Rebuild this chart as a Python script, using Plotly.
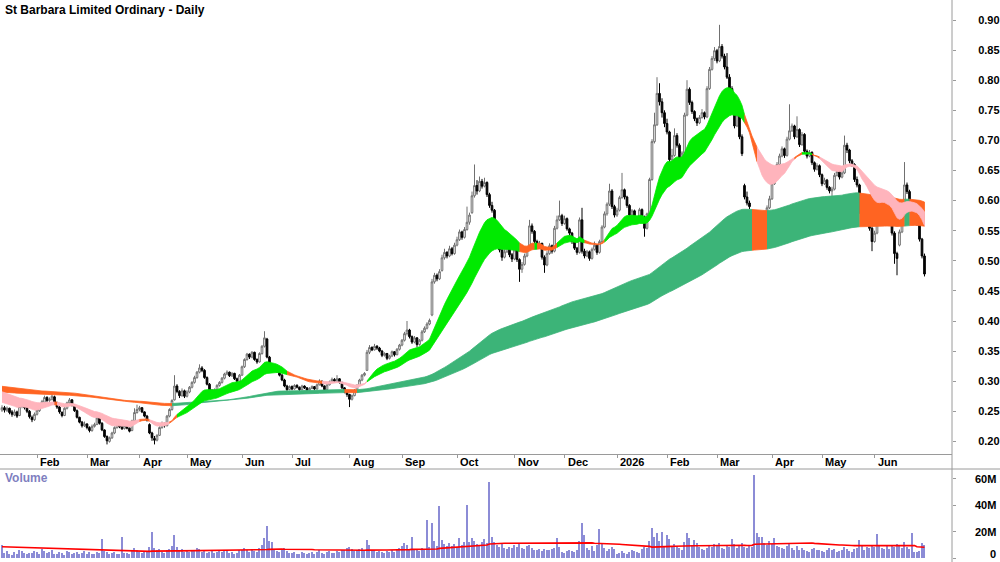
import numpy as np
import pandas as pd
import plotly.graph_objects as go

TITLE = "St Barbara Limited Ordinary - Daily"
START, END = "2025-01-13", "2026-06-30"
HOLIDAYS = ["2025-01-27", "2025-04-18", "2025-04-21", "2025-04-25", "2025-06-09",
            "2025-12-25", "2025-12-26", "2026-01-01", "2026-01-26", "2026-04-03",
            "2026-04-06", "2026-06-08"]

# prices in cents, one line per month
OPEN = [
 25.2, 25.6, 25.1, 25.5, 24.9, 24.4, 24.9, 24.3, 25.8, 26.3, 25.6, 25.0, 24.0, 23.6,
 24.5, 25.1, 25.9, 26.5, 27.3, 26.8, 27.0, 27.4, 26.4, 25.7, 24.8, 24.3, 25.5, 26.4, 26.9, 26.0, 25.1, 24.0, 23.2, 22.6,
 22.9, 22.3, 21.8, 22.5, 22.8, 23.9, 23.0, 21.9, 20.8, 20.0, 20.6, 21.4, 22.3, 22.9, 22.4, 22.1, 22.6, 22.2, 21.8, 23.4, 24.8,
 25.3, 25.6, 24.9, 24.2, 22.8, 21.4, 20.5, 20.2, 21.0, 22.3, 23.0, 22.6, 24.2, 25.3, 26.9, 29.2, 28.3, 27.6, 28.4,
 27.5, 28.2, 29.0, 29.8, 30.6, 31.5, 32.2, 31.8, 30.6, 29.5, 28.4, 27.9, 28.6, 29.3, 29.8, 30.5, 31.2, 31.5, 30.9, 31.3, 30.4, 30.0,
 31.0, 32.4, 33.6, 34.5, 34.0, 34.8, 33.6, 33.2, 34.6, 35.8, 37.0, 34.0, 32.6, 31.8, 32.4, 31.6, 31.0, 30.2, 29.2, 28.6,
 29.1, 28.7, 29.3, 29.0, 28.6, 29.2, 28.9, 28.5, 28.8, 29.1, 28.7, 29.4, 30.0, 29.2, 28.6, 29.4, 29.9, 30.3, 30.0, 30.4, 29.8, 28.9, 28.2,
 27.8, 27.0, 27.6, 28.5, 29.3, 30.2, 31.0, 31.8, 34.8, 35.6, 35.2, 35.8, 35.5, 35.0, 34.3, 34.6, 33.8, 34.2, 34.9, 34.4, 35.3,
 36.0, 36.8, 37.9, 38.5, 37.4, 36.5, 37.2, 36.1, 36.8, 38.2, 38.8, 39.5, 41.0, 46.5, 47.6, 47.0, 48.4, 50.5, 51.4, 50.8, 52.0, 51.2,
 52.6, 53.5, 54.8, 53.9, 55.2, 56.4, 58.0, 60.8, 62.5, 61.6, 63.2, 62.4, 63.0, 61.0, 59.2, 58.4, 55.6, 54.2, 51.8, 50.6, 51.5, 52.4, 51.0,
 50.3, 51.8, 50.2, 48.6, 49.4, 50.8, 52.0, 55.8, 54.9, 53.2, 52.4, 52.9, 50.6, 49.3, 51.2, 52.5, 51.6, 55.4, 56.8, 57.5,
 56.2, 57.0, 55.3, 54.6, 53.2, 52.1, 51.4, 56.8, 51.6, 50.8, 51.5, 50.4, 51.9, 52.6, 51.4, 53.2, 55.6, 57.8, 59.4, 61.6, 59.0,
 57.6, 58.4, 60.5, 61.8, 60.6, 59.2, 57.6, 58.3, 57.1, 56.6, 58.5, 57.2, 55.4, 57.8, 63.5, 69.8, 72.6, 77.8, 76.4, 74.6,
 72.8, 71.4, 66.8, 67.5, 70.8, 69.2, 66.4, 67.9, 74.2, 78.5, 76.3, 74.8, 73.6, 72.9, 73.8, 74.6, 73.9, 78.6, 81.8, 83.6,
 84.9, 83.2, 85.6, 84.0, 82.2, 80.5, 78.6, 76.8, 72.4, 74.2, 70.6, 62.5, 60.6, 59.6, 57.5, 54.2, 55.8, 53.4, 55.9, 54.6, 57.2, 58.8,
 60.3, 62.8, 64.2, 66.0, 67.4, 68.6, 67.5, 70.2, 71.6, 72.4, 70.6, 71.8, 69.3, 71.0, 68.2, 67.4, 68.0, 66.3, 65.2, 65.8,
 64.3, 62.8, 63.4, 62.2, 61.6, 61.9, 64.2, 64.8, 63.9, 64.6, 69.2, 68.4, 66.6, 66.0, 63.5, 62.6, 58.2, 56.4, 57.8, 56.5, 55.4,
 53.2, 54.6, 56.8, 59.2, 60.4, 59.1, 58.0, 56.8, 54.6, 51.2, 52.6, 54.8, 58.4, 62.6, 61.5, 59.6, 58.8, 57.4, 56.2, 53.6, 50.8,
]
HIGH = [
 26.0, 25.9, 25.8, 25.6, 25.2, 25.3, 25.1, 26.0, 26.9, 26.5, 25.9, 25.2, 24.3, 24.8,
 25.4, 26.1, 26.9, 27.6, 27.5, 27.3, 28.0, 27.6, 26.6, 25.9, 25.0, 25.7, 26.6, 27.2, 27.0, 26.2, 25.3, 24.1, 23.4, 23.3,
 23.0, 22.5, 22.8, 23.1, 24.2, 24.0, 23.2, 22.0, 21.0, 20.8, 21.6, 22.5, 23.2, 23.0, 22.6, 22.8, 22.7, 22.3, 23.6, 25.5, 26.1,
 25.9, 25.7, 25.0, 24.4, 23.0, 21.6, 20.9, 21.2, 22.5, 23.3, 23.1, 24.4, 25.5, 27.0, 31.0, 29.5, 28.5, 28.8, 28.6,
 28.5, 29.2, 30.0, 30.9, 31.7, 32.8, 32.5, 32.0, 30.8, 29.7, 28.7, 28.8, 29.5, 30.0, 30.7, 31.4, 31.8, 31.6, 31.5, 31.4, 30.6, 31.2,
 32.6, 33.8, 34.7, 34.6, 35.0, 34.9, 33.8, 34.8, 36.0, 38.3, 37.2, 34.2, 32.8, 32.6, 32.5, 31.8, 31.2, 30.4, 29.4, 29.3,
 29.3, 29.5, 29.5, 29.1, 29.4, 29.3, 29.0, 29.0, 29.3, 29.2, 29.6, 30.3, 30.1, 29.3, 29.6, 30.1, 30.6, 30.5, 31.0, 30.5, 29.9, 29.0, 28.3,
 27.9, 27.8, 28.7, 29.5, 30.4, 31.2, 31.5, 35.2, 36.0, 35.8, 36.2, 36.0, 35.7, 35.2, 34.8, 34.7, 34.4, 35.1, 35.0, 35.5, 36.2,
 37.0, 38.2, 40.0, 38.7, 37.6, 37.5, 37.3, 37.0, 38.5, 39.1, 39.8, 40.4, 47.0, 48.0, 47.9, 48.6, 51.0, 52.0, 51.6, 52.5, 52.3, 53.0,
 54.0, 55.2, 55.0, 55.6, 59.0, 58.0, 61.5, 66.0, 63.4, 64.0, 63.6, 63.8, 63.2, 61.3, 59.8, 58.6, 56.0, 54.4, 52.2, 51.9, 53.0, 52.6, 51.3,
 52.2, 52.0, 50.4, 49.8, 51.2, 52.4, 56.8, 56.2, 55.1, 53.5, 53.3, 53.0, 50.9, 51.6, 52.9, 52.7, 55.8, 57.5, 60.0, 57.8,
 57.5, 57.2, 55.5, 54.8, 53.4, 52.3, 57.2, 58.8, 52.0, 51.8, 51.7, 52.2, 53.2, 52.8, 53.5, 55.9, 58.2, 59.7, 62.8, 61.9, 59.3,
 58.8, 60.8, 64.6, 62.0, 60.8, 59.4, 58.6, 58.5, 57.4, 58.8, 58.7, 57.5, 58.0, 63.8, 70.2, 74.6, 80.5, 79.5, 77.0, 75.0,
 73.6, 71.6, 68.6, 72.0, 71.2, 69.5, 68.2, 74.6, 80.0, 78.8, 76.6, 75.0, 73.8, 74.2, 75.2, 74.8, 79.0, 82.2, 84.0, 85.5,
 85.2, 89.2, 86.0, 84.4, 84.5, 81.0, 79.0, 77.2, 75.0, 74.4, 71.0, 62.8, 61.5, 60.0, 57.8, 56.2, 56.0, 56.4, 56.2, 57.6, 59.2, 60.8,
 63.2, 64.6, 66.4, 67.8, 69.0, 68.8, 70.6, 76.0, 72.8, 72.6, 74.0, 72.0, 71.4, 71.2, 68.5, 68.4, 68.2, 66.5, 66.2, 66.0,
 64.5, 63.8, 63.6, 62.4, 62.3, 64.6, 65.2, 65.0, 65.0, 70.8, 69.6, 68.6, 66.9, 66.2, 64.0, 62.8, 58.6, 58.2, 58.0, 56.8, 55.7,
 55.0, 57.2, 59.6, 61.2, 60.6, 59.3, 58.2, 57.0, 54.9, 51.5, 55.2, 58.8, 66.4, 63.0, 61.8, 60.0, 59.2, 57.6, 56.4, 53.8, 51.2,
]
LOW = [
 24.9, 24.8, 24.9, 24.5, 24.1, 24.2, 23.9, 24.2, 25.5, 25.3, 24.7, 23.8, 23.2, 23.4,
 24.3, 24.9, 25.6, 26.3, 26.5, 26.4, 26.8, 26.1, 25.4, 24.6, 24.0, 24.2, 25.3, 26.2, 25.8, 24.9, 23.8, 23.0, 22.3, 22.4,
 22.0, 21.5, 21.6, 22.3, 22.7, 22.8, 21.7, 20.6, 19.5, 19.8, 20.4, 21.2, 22.1, 22.2, 21.9, 22.0, 22.0, 21.5, 21.7, 23.3, 24.6,
 25.0, 24.7, 24.0, 23.3, 21.2, 20.1, 19.5, 20.0, 20.9, 22.1, 22.3, 22.5, 24.0, 25.1, 26.8, 28.0, 27.2, 27.4, 27.2,
 27.3, 28.0, 28.8, 29.6, 30.4, 31.3, 31.5, 30.4, 29.3, 28.2, 27.5, 27.7, 28.4, 29.1, 29.6, 30.3, 31.0, 30.7, 30.7, 30.2, 29.7, 29.9,
 30.9, 32.2, 33.4, 33.7, 33.8, 33.4, 32.9, 33.1, 34.4, 35.6, 33.8, 32.4, 31.5, 31.6, 31.4, 30.8, 30.0, 29.0, 28.4, 28.5,
 28.5, 28.6, 28.8, 28.4, 28.5, 28.7, 28.3, 28.4, 28.7, 28.5, 28.6, 29.3, 29.0, 28.4, 28.5, 29.3, 29.8, 29.8, 29.9, 29.6, 28.7, 28.0, 27.4,
 25.7, 26.8, 27.5, 28.4, 29.2, 30.0, 30.8, 31.7, 34.5, 35.0, 35.1, 35.2, 34.8, 34.0, 34.1, 33.5, 33.6, 34.0, 34.1, 34.3, 35.1,
 35.8, 36.6, 37.6, 37.1, 36.2, 36.3, 35.7, 35.9, 36.6, 38.0, 38.6, 39.3, 40.8, 46.2, 46.6, 46.8, 48.2, 50.2, 50.4, 50.6, 50.9, 51.0,
 52.4, 53.3, 53.5, 53.7, 55.0, 56.0, 57.8, 60.5, 61.0, 61.4, 62.0, 62.2, 60.6, 58.8, 58.0, 55.2, 53.8, 51.4, 50.0, 50.4, 51.3, 50.6, 49.8,
 50.1, 49.8, 46.5, 48.0, 49.2, 50.6, 51.8, 54.5, 52.9, 52.0, 52.2, 50.2, 48.0, 49.1, 51.0, 51.2, 51.4, 55.2, 56.6, 55.8,
 56.0, 55.0, 54.2, 52.8, 51.8, 51.0, 51.2, 51.2, 50.4, 50.6, 50.0, 50.2, 51.7, 51.0, 51.2, 53.0, 55.4, 57.5, 59.1, 58.6, 57.2,
 57.3, 58.2, 60.3, 60.2, 58.8, 57.2, 57.4, 56.8, 56.2, 56.4, 56.9, 54.0, 55.2, 57.6, 63.3, 69.5, 72.4, 75.8, 73.8, 72.2,
 71.0, 66.2, 64.8, 67.3, 68.8, 65.8, 65.0, 67.7, 74.0, 75.9, 74.4, 73.2, 72.4, 72.7, 73.6, 73.5, 73.7, 78.4, 81.6, 83.2,
 82.8, 83.0, 83.6, 81.8, 80.2, 78.2, 76.4, 72.0, 72.2, 70.2, 67.4, 60.2, 59.2, 58.6, 53.6, 52.8, 52.6, 53.2, 54.2, 54.4, 57.0, 58.6,
 60.1, 62.6, 64.0, 65.8, 67.2, 67.1, 67.3, 70.0, 71.4, 70.2, 70.4, 68.9, 69.1, 67.8, 67.0, 67.2, 65.9, 64.8, 65.0, 63.9,
 62.4, 62.6, 61.8, 61.2, 59.8, 61.7, 64.0, 63.5, 63.7, 64.4, 67.9, 66.2, 65.6, 63.1, 62.2, 57.8, 56.0, 56.2, 56.1, 55.0, 51.6,
 53.0, 54.4, 56.6, 59.0, 58.7, 57.6, 56.4, 54.2, 49.5, 47.6, 52.4, 54.6, 58.2, 61.1, 59.2, 58.4, 57.0, 55.8, 53.2, 50.4, 47.4,
]
CLOSE = [
 25.6, 25.2, 25.5, 24.8, 24.5, 24.9, 24.2, 25.8, 26.3, 25.6, 25.0, 24.1, 23.6, 24.5,
 25.2, 25.9, 26.6, 27.3, 26.8, 27.0, 27.5, 26.4, 25.7, 24.9, 24.3, 25.5, 26.4, 26.9, 26.0, 25.1, 24.0, 23.2, 22.6, 22.9,
 22.3, 21.8, 22.5, 22.8, 23.9, 23.0, 21.9, 20.8, 20.1, 20.6, 21.4, 22.3, 22.9, 22.4, 22.1, 22.6, 22.2, 21.7, 23.4, 24.8, 25.3,
 25.6, 24.9, 24.2, 23.5, 21.4, 20.6, 20.2, 21.0, 22.3, 23.0, 22.6, 24.2, 25.3, 26.8, 29.2, 28.3, 27.6, 28.4, 27.5,
 28.2, 29.0, 29.8, 30.6, 31.5, 32.2, 31.8, 30.6, 29.5, 28.4, 27.9, 28.6, 29.3, 29.8, 30.5, 31.2, 31.5, 30.9, 31.3, 30.4, 30.0, 31.0,
 32.4, 33.6, 34.5, 34.0, 34.8, 33.6, 33.2, 34.6, 35.8, 37.2, 34.0, 32.6, 31.8, 32.4, 31.6, 31.0, 30.2, 29.2, 28.6, 29.1,
 28.7, 29.3, 29.0, 28.6, 29.2, 28.9, 28.5, 28.8, 29.1, 28.7, 29.4, 30.0, 29.2, 28.6, 29.4, 29.9, 30.3, 30.0, 30.4, 29.8, 28.9, 28.2, 27.8,
 27.0, 27.6, 28.5, 29.3, 30.2, 31.0, 31.3, 34.8, 35.6, 35.2, 35.8, 35.5, 35.0, 34.3, 34.6, 33.8, 34.2, 34.9, 34.4, 35.3, 36.0,
 36.8, 37.9, 38.5, 37.4, 36.5, 37.2, 36.1, 36.8, 38.2, 38.8, 39.5, 40.1, 46.5, 47.6, 47.0, 48.2, 50.5, 51.4, 50.8, 52.0, 51.2, 52.6,
 53.5, 54.8, 53.9, 55.2, 56.4, 57.6, 60.8, 62.5, 61.6, 63.2, 62.4, 63.0, 61.0, 59.2, 58.4, 55.6, 54.2, 51.8, 50.6, 51.5, 52.4, 51.0, 50.3,
 51.8, 50.2, 48.6, 49.4, 50.8, 52.0, 55.8, 54.9, 53.2, 52.4, 52.9, 50.6, 49.3, 51.2, 52.5, 51.6, 55.4, 56.8, 57.5, 56.2,
 57.0, 55.3, 54.6, 53.2, 52.1, 51.4, 56.8, 51.6, 50.8, 51.5, 50.4, 51.9, 52.6, 51.4, 53.2, 55.6, 57.8, 59.4, 61.6, 59.0, 57.6,
 58.4, 60.5, 61.8, 60.6, 59.2, 57.6, 58.3, 57.1, 56.6, 58.5, 57.2, 55.4, 57.8, 63.5, 69.8, 72.6, 77.8, 76.4, 74.6, 72.8,
 71.4, 66.8, 67.5, 70.8, 69.2, 66.4, 67.9, 74.2, 78.5, 76.3, 74.8, 73.6, 72.9, 73.8, 74.6, 73.9, 78.6, 81.8, 83.6, 84.9,
 83.2, 85.6, 84.0, 82.2, 80.5, 78.6, 76.8, 72.4, 74.2, 70.6, 67.8, 60.6, 59.6, 59.0, 54.2, 55.8, 53.4, 55.9, 54.6, 57.2, 58.8, 60.3,
 62.8, 64.2, 66.0, 67.4, 68.6, 67.5, 70.2, 71.6, 72.4, 70.6, 71.8, 69.3, 71.0, 68.2, 67.4, 68.0, 66.3, 65.2, 65.8, 64.3,
 62.8, 63.4, 62.2, 61.6, 61.9, 64.2, 64.8, 63.9, 64.6, 69.2, 68.4, 66.6, 66.0, 63.5, 62.6, 58.2, 56.4, 57.8, 56.5, 55.4, 53.2,
 54.6, 56.8, 59.2, 60.4, 59.1, 58.0, 56.8, 54.6, 51.2, 50.4, 54.8, 58.4, 62.6, 61.5, 59.6, 58.8, 57.4, 56.2, 53.6, 50.8, 47.8,
]
# volume in millions of shares
VOLUME = [
 10.0, 4.0, 5.5, 3.0, 2.5, 4.5, 3.0, 6.0, 5.0, 3.5, 2.8, 4.0, 3.6, 5.2,
 4.8, 3.2, 6.5, 5.4, 3.9, 4.2, 5.8, 3.4, 2.9, 4.4, 3.8, 2.6, 5.1, 4.6, 3.3, 3.9, 4.7, 2.8, 4.1, 5.5,
 3.4, 4.2, 3.1, 2.7, 4.9, 3.6, 14.0, 5.3, 4.4, 3.2, 3.8, 4.6, 3.0, 2.8, 15.6, 4.1, 3.5, 2.9, 5.2, 7.8, 6.1,
 4.6, 3.9, 4.4, 5.6, 8.2, 19.5, 7.4, 5.8, 6.6, 4.9, 3.7, 6.3, 7.1, 9.4, 17.0, 8.6, 5.2, 6.8, 4.5,
 5.4, 4.8, 6.2, 5.7, 7.6, 6.9, 4.3, 5.1, 3.8, 4.6, 5.9, 3.6, 4.2, 5.0, 4.4, 6.1, 5.5, 3.9, 4.7, 3.4, 4.1, 5.8,
 6.4, 7.2, 5.9, 4.6, 6.8, 5.1, 4.4, 7.5, 9.8, 15.0, 24.0, 12.6, 11.8, 6.2, 5.5, 4.8, 6.6, 7.4, 5.2, 4.1,
 3.6, 4.4, 3.1, 2.9, 4.2, 3.5, 2.7, 3.8, 4.5, 3.2, 4.9, 6.1, 3.7, 3.3, 4.6, 5.3, 4.1, 3.6, 5.0, 4.3, 5.8, 6.4, 7.2,
 8.5, 6.5, 5.1, 5.9, 6.8, 7.4, 6.2, 13.8, 9.6, 5.7, 6.3, 4.9, 5.4, 4.6, 3.9, 5.2, 4.4, 5.8, 4.7, 6.5, 7.9,
 8.8, 11.0, 9.5, 6.4, 16.0, 5.8, 6.9, 5.5, 7.6, 6.8, 29.0, 8.4, 26.5, 12.8, 9.2, 39.0, 13.6, 10.2, 8.7, 11.4, 9.1, 10.5,
 8.6, 15.0, 9.8, 12.4, 40.0, 11.8, 15.0, 13.2, 10.6, 9.5, 12.0, 14.0, 11.2, 57.0, 16.0, 12.4, 9.8, 8.6, 10.4, 7.2, 6.8, 8.1, 7.4,
 9.8, 8.4, 10.6, 7.2, 6.5, 8.8, 9.6, 7.8, 6.4, 5.9, 6.6, 5.4, 7.1, 6.3, 5.8, 6.9, 7.5, 15.0, 8.2, 4.6,
 3.8, 5.2, 6.4, 5.6, 4.2, 5.9, 12.5, 26.5, 17.0, 7.8, 6.2, 8.9, 5.1, 9.6, 22.0, 10.4, 7.6, 5.3, 6.9, 8.4, 6.6,
 3.2, 4.1, 5.5, 3.6, 2.9, 4.8, 6.2, 5.4, 4.4, 3.8, 6.8, 8.6, 7.4, 13.0, 23.0, 16.0, 19.0, 12.5, 19.5, 9.4,
 17.0, 14.0, 8.6, 10.8, 9.2, 7.6, 6.4, 12.2, 18.6, 15.4, 9.8, 13.6, 11.0, 8.4, 6.8, 5.9, 7.2, 9.6, 8.1, 10.2,
 8.8, 11.5, 7.4, 6.9, 9.2, 8.4, 14.3, 10.8, 7.9, 9.6, 11.2, 8.5, 7.3, 9.8, 8.6, 63.0, 18.7, 15.6, 15.6, 11.4, 9.6, 12.8,
 10.2, 14.8, 9.4, 8.6, 7.2, 6.5, 8.8, 11.6, 7.9, 6.4, 9.2, 5.8, 7.5, 6.2, 5.4, 4.9, 6.6, 7.3, 5.7, 6.1,
 5.2, 4.6, 6.4, 7.8, 5.9, 6.6, 4.8, 5.3, 6.2, 8.5, 7.1, 5.6, 4.9, 6.8, 7.5, 13.5, 9.6, 6.2, 8.4, 7.7, 9.2,
 8.6, 18.0, 9.4, 7.2, 6.5, 8.8, 7.1, 9.9, 8.2, 10.6, 9.0, 7.4, 11.8, 8.5, 6.9, 18.7, 4.2, 4.8, 5.1, 11.0, 9.5,
]

# multiple moving average ribbons (periods in days, starting values in cents)
SHORT_PERIODS = [18, 21, 24, 27, 31, 36]
SHORT_SEED = [26.6, 26.9, 27.2, 27.6, 27.9, 28.4]
LONG_PERIODS = [150, 165, 180, 200, 220, 240]
LONG_SEED = [29.2, 29.0, 28.8, 28.6, 28.4, 28.2]
VOL_MA_PERIOD = 65
VOL_MA_SEED = 8.5

PRICE_TICKS = [0.20, 0.25, 0.30, 0.35, 0.40, 0.45, 0.50, 0.55, 0.60, 0.65, 0.70, 0.75, 0.80, 0.85, 0.90]
VOL_TICKS = [0, 20, 40, 60]
VOL_TICK_TEXT = ["0", "20M", "40M", "60M"]

GREEN, PINK, ORANGE, DKGREEN = "#00EA00", "#FFB4BC", "#FF6422", "#3CB478"
VOL_COLOR, VOL_MA_COLOR = "#8C8CD6", "#FF0000"
FONT = "Liberation Sans, Arial, sans-serif"
NARROW = "Liberation Sans Narrow, Arial Narrow, Liberation Sans, sans-serif"

# ---------------------------------------------------------------
dates = pd.bdate_range(START, END)
dates = dates[~dates.isin(pd.to_datetime(HOLIDAYS))]
n = len(dates)
for name, arr in (("OPEN", OPEN), ("HIGH", HIGH), ("LOW", LOW), ("CLOSE", CLOSE), ("VOLUME", VOLUME)):
    assert len(arr) == n, f"{name} has {len(arr)} values, expected {n}"
idx = np.arange(n)
o, h, l, c = (np.array(a) / 100 for a in (OPEN, HIGH, LOW, CLOSE))
vol = np.array(VOLUME)


def ema(values, period, seed):
    a = 2.0 / (period + 1)
    out = np.empty(len(values))
    prev = seed
    for k, v in enumerate(values):
        prev = prev + a * (v - prev)
        out[k] = prev
    return out


S = np.vstack([ema(c, p, s / 100) for p, s in zip(SHORT_PERIODS, SHORT_SEED)])
L = np.vstack([ema(c, p, s / 100) for p, s in zip(LONG_PERIODS, LONG_SEED)])
dS = np.diff(S, axis=0)
short_col = np.where(np.all(dS < 0, axis=0), GREEN, np.where(np.all(dS > 0, axis=0), PINK, ORANGE))
prevL = np.concatenate([[LONG_SEED[0] / 100], L[0][:-1]])
long_col = np.where(L[0] < prevL, ORANGE, DKGREEN)


def runs(cols):
    out, start = [], 0
    for i in range(1, len(cols) + 1):
        if i == len(cols) or cols[i] != cols[start]:
            out.append((start, i - 1, cols[start]))
            start = i
    return out


def band(upper, lower, cols):
    tr = []
    for a, b, col in runs(list(cols)):
        e = min(b + 1, n - 1)
        xs = np.concatenate([idx[a:e + 1], idx[a:e + 1][::-1]])
        ys = np.concatenate([upper[a:e + 1], lower[a:e + 1][::-1]])
        tr.append(go.Scatter(x=xs, y=ys, fill="toself", fillcolor=col, mode="lines",
                             line=dict(color=col, width=0.8), hoverinfo="skip",
                             xaxis="x", yaxis="y"))
    return tr


vol_ma = np.array([(vol[max(0, i - VOL_MA_PERIOD + 1):i + 1].sum()
                    + VOL_MA_SEED * max(0, VOL_MA_PERIOD - (i + 1))) / VOL_MA_PERIOD for i in range(n)])

month_idx = [i for i in range(1, n) if dates[i].month != dates[i - 1].month]
month_txt = [str(dates[i].year) if dates[i].month == 1 else dates[i].strftime("%b") for i in month_idx]

fig = go.Figure()
for t in band(L.max(axis=0), L.min(axis=0), long_col):
    fig.add_trace(t)
for t in band(S.max(axis=0), S.min(axis=0), short_col):
    fig.add_trace(t)
fig.add_trace(go.Candlestick(
    x=idx, open=o, high=h, low=l, close=c, xaxis="x", yaxis="y",
    increasing=dict(line=dict(color="#707070", width=1), fillcolor="#FFFFFF"),
    decreasing=dict(line=dict(color="#000000", width=1), fillcolor="#000000"),
    whiskerwidth=0, hoverinfo="skip"))
fig.add_trace(go.Bar(x=idx, y=vol, width=0.42, marker=dict(color=VOL_COLOR, line=dict(width=0)),
                     xaxis="x2", yaxis="y2", hoverinfo="skip"))
fig.add_trace(go.Scatter(x=idx, y=vol_ma, mode="lines", line=dict(color=VOL_MA_COLOR, width=1.6),
                         xaxis="x2", yaxis="y2", hoverinfo="skip"))

W, H = 1000, 562
XR = 952 / W
P_BOT = 454
V_TOP, V_BOT = 469, 558
x_range = [(0 - 2) / 2.5, (952 - 2) / 2.5]
p_range = [0.90 - (P_BOT - 20) / 602.0, 0.90 + 20 / 602.0]
v_range = [0, (V_BOT - V_TOP) / 26.5 * 20]

ann = [dict(text=TITLE, x=0.003, y=1 - 10 / H, xref="paper", yref="paper", xanchor="left", yanchor="middle",
            showarrow=False, font=dict(family=FONT, size=12, color="#000000", weight="bold")),
       dict(text="Volume", x=0.003, y=1 - 478 / H, xref="paper", yref="paper", xanchor="left", yanchor="middle",
            showarrow=False, font=dict(family=FONT, size=12, color="#7F7FBF", weight="bold"))]
for mi, mt in zip(month_idx, month_txt):
    ann.append(dict(text=mt, x=mi, y=1 - 462 / H, xref="x", yref="paper", xanchor="left", yanchor="middle",
                    xshift=1, showarrow=False, font=dict(family=NARROW, size=11, color="#000000", weight="bold")))
for vt, vtt in zip(VOL_TICKS, VOL_TICK_TEXT):
    ann.append(dict(text=vtt, x=0.998, y=vt, xref="paper", yref="y2", xanchor="right",
                    yanchor="bottom" if vt == 0 else "middle", yshift=-4 if vt == 0 else 0,
                    showarrow=False, font=dict(family=FONT, size=11, color="#000000", weight="bold")))

fig.update_layout(
    width=W, height=H, margin=dict(l=0, r=0, t=0, b=0),
    paper_bgcolor="#FFFFFF", plot_bgcolor="#FFFFFF", showlegend=False, hovermode=False,
    dragmode=False, bargap=0, boxgap=0.05,
    xaxis=dict(domain=[0, XR], range=x_range, anchor="y", showgrid=False, zeroline=False,
               showline=True, linecolor="#9A9A9A", linewidth=1, ticks="outside", ticklen=3,
               tickcolor="#9A9A9A", tickvals=month_idx, showticklabels=False,
               rangeslider=dict(visible=False), fixedrange=True),
    xaxis2=dict(domain=[0, XR], matches="x", anchor="y2", showgrid=False, zeroline=False,
                showline=False, showticklabels=False, ticks="", fixedrange=True),
    yaxis=dict(domain=[1 - P_BOT / H, 1], range=p_range, side="right", anchor="x",
               showgrid=False, zeroline=False, showline=False, ticks="outside", ticklen=3,
               tickcolor="#9A9A9A", tickvals=PRICE_TICKS, ticktext=[f"{v:.2f}" for v in PRICE_TICKS],
               tickfont=dict(family=FONT, size=11, color="#000000", weight="bold"),
               ticklabelstandoff=20, fixedrange=True),
    yaxis2=dict(domain=[1 - V_BOT / H, 1 - V_TOP / H], range=v_range, side="right", anchor="x2",
                showgrid=False, zeroline=False, showline=False, ticks="outside", ticklen=3,
                tickcolor="#9A9A9A", tickvals=VOL_TICKS, showticklabels=False, fixedrange=True),
    annotations=ann,
    shapes=[dict(type="line", xref="paper", yref="paper", x0=XR, x1=XR, y0=0, y1=1,
                 line=dict(color="#9A9A9A", width=1)),
            dict(type="line", xref="paper", yref="paper", x0=0, x1=1, y0=1 - V_TOP / H, y1=1 - V_TOP / H,
                 line=dict(color="#9A9A9A", width=1))],
)
fig.write_html("out.html")
